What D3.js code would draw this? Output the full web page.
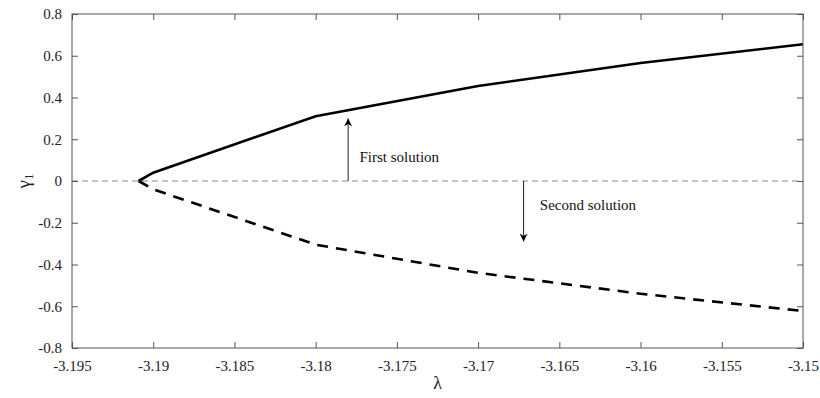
<!DOCTYPE html>
<html><head><meta charset="utf-8">
<script src="https://cdn.jsdelivr.net/npm/d3@7"></script>
<style>body{margin:0;background:#fff}svg{display:block}</style>
</head><body>
<script>
const xTicks = [-3.195,-3.19,-3.185,-3.18,-3.175,-3.17,-3.165,-3.16,-3.155,-3.15];
const yTicks = [-0.8,-0.6,-0.4,-0.2,0,0.2,0.4,0.6,0.8];
const firstLambda = [-3.1909,-3.19,-3.18,-3.17,-3.16,-3.15];
const firstGamma  = [0,0.04,0.31,0.455,0.565,0.655];
const secondLambda = [-3.1909,-3.19,-3.18,-3.17,-3.16,-3.15];
const secondGamma  = [0,-0.04,-0.305,-0.44,-0.54,-0.623];
const annotations = [
  {label:"First solution", x:-3.178, from:0, to:0.3, tx:-3.1773, ty:0.09},
  {label:"Second solution", x:-3.1672, from:0, to:-0.29, tx:-3.1662, ty:-0.14}
];

const W=820,H=398, m={l:72,r:17,t:14,b:50};
const svg=d3.select("body").append("svg").attr("width",W).attr("height",H);
const x=d3.scaleLinear().domain([-3.195,-3.15]).range([m.l,W-m.r]);
const y=d3.scaleLinear().domain([-0.8,0.8]).range([H-m.b,m.t]);
const FONT="'Liberation Serif', 'Times New Roman', serif";
const axisCol="#555";
const fmt=d=>String(+(+d).toFixed(3));

svg.append("line").attr("x1",x(-3.195)).attr("x2",x(-3.15)).attr("y1",y(0)).attr("y2",y(0))
  .attr("stroke","#888").attr("stroke-width",1).attr("stroke-dasharray","6,4");

const line=d3.line().x(d=>x(d[0])).y(d=>y(d[1]));
svg.append("path").datum(d3.zip(firstLambda,firstGamma)).attr("d",line)
  .attr("fill","none").attr("stroke","#000").attr("stroke-width",2.6);
svg.append("path").datum(d3.zip(secondLambda,secondGamma)).attr("d",line)
  .attr("fill","none").attr("stroke","#000").attr("stroke-width",2.6).attr("stroke-dasharray","11,8");

const ax=(g,a)=>{g.call(a);g.select(".domain").remove();g.selectAll("line").attr("stroke",axisCol);
  g.selectAll("text").style("font-family",FONT).style("font-size","15px").attr("fill","#222");};
svg.append("g").attr("transform",`translate(0,${y(-0.8)})`).call(g=>ax(g,d3.axisBottom(x).tickValues(xTicks).tickFormat(fmt).tickSizeInner(-6).tickPadding(12)));
svg.append("g").attr("transform",`translate(0,${y(0.8)})`).call(g=>ax(g,d3.axisTop(x).tickValues(xTicks).tickFormat("").tickSizeInner(-6)));
svg.append("g").attr("transform",`translate(${x(-3.195)},0)`).call(g=>ax(g,d3.axisLeft(y).tickValues(yTicks).tickFormat(fmt).tickSizeInner(-6).tickPadding(10)));
svg.append("g").attr("transform",`translate(${x(-3.15)},0)`).call(g=>ax(g,d3.axisRight(y).tickValues(yTicks).tickFormat("").tickSizeInner(-6)));
svg.append("rect").attr("x",x(-3.195)).attr("y",y(0.8)).attr("width",x(-3.15)-x(-3.195)).attr("height",y(-0.8)-y(0.8))
  .attr("fill","none").attr("stroke",axisCol).attr("stroke-width",1);

const defs=svg.append("defs");
defs.append("marker").attr("id","ah").attr("viewBox","0 0 10 10").attr("refX",10).attr("refY",5)
  .attr("markerWidth",8).attr("markerHeight",8).attr("markerUnits","userSpaceOnUse").attr("orient","auto")
  .append("path").attr("d","M0,0 L10,5 L0,10 L3,5 Z").attr("fill","#000");
annotations.forEach(a=>{
  svg.append("line").attr("x1",x(a.x)).attr("x2",x(a.x)).attr("y1",y(a.from)).attr("y2",y(a.to))
    .attr("stroke","#222").attr("stroke-width",1).attr("marker-end","url(#ah)");
  svg.append("text").attr("x",x(a.tx)).attr("y",y(a.ty)).text(a.label)
    .style("font-family",FONT).style("font-size","15px").attr("fill","#111");
});

svg.append("text").attr("x",x(-3.1725)).attr("y",389).attr("text-anchor","middle")
  .style("font-family",FONT).style("font-size","18px").attr("fill","#222").text("λ");
const yl=svg.append("text").attr("transform",`translate(30,${y(0)}) rotate(-90)`).attr("text-anchor","middle")
  .style("font-family",FONT).style("font-size","19px").attr("fill","#222");
yl.append("tspan").text("γ");
yl.append("tspan").style("font-size","13px").attr("dy",3).text("1");
</script>
</body></html>
